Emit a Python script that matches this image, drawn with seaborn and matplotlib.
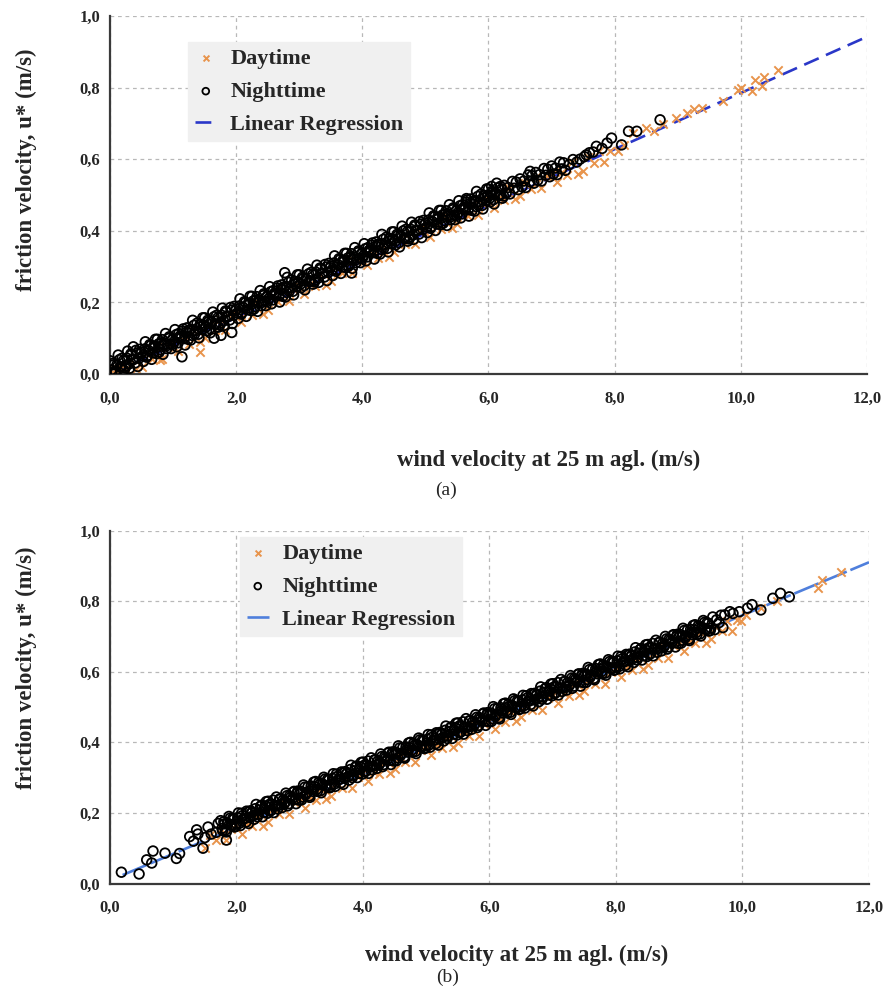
import matplotlib
matplotlib.use("Agg")
import matplotlib.pyplot as plt
import seaborn as sns

sns.set_style("white")
plt.rcParams['font.family'] = ['Liberation Serif', 'DejaVu Serif']

# ---------------- Data: panel (a) ----------------
night_a_x = [
    0.00, 0.03, 0.06, 0.09, 0.13, 0.16, 0.19, 0.22, 0.25, 0.28, 0.31, 0.34, 0.38, 0.41, 0.44, 0.47,
    0.50, 0.53, 0.56, 0.59, 0.63, 0.66, 0.69, 0.72, 0.75, 0.78, 0.81, 0.84, 0.88, 0.91, 0.94, 0.97,
    1.00, 1.03, 1.06, 1.09, 1.13, 1.16, 1.19, 1.22, 1.25, 1.28, 1.31, 1.34, 1.38, 1.41, 1.44, 1.47,
    1.50, 1.53, 1.56, 1.59, 1.63, 1.66, 1.69, 1.72, 1.75, 1.78, 1.81, 1.84, 1.88, 1.91, 1.94, 1.97,
    2.00, 2.03, 2.06, 2.09, 2.13, 2.16, 2.19, 2.22, 2.25, 2.28, 2.31, 2.34, 2.38, 2.41, 2.44, 2.47,
    2.50, 2.53, 2.56, 2.59, 2.63, 2.66, 2.69, 2.72, 2.75, 2.78, 2.81, 2.84, 2.88, 2.91, 2.94, 2.97,
    3.00, 3.03, 3.06, 3.09, 3.13, 3.16, 3.19, 3.22, 3.25, 3.28, 3.31, 3.34, 3.38, 3.41, 3.44, 3.47,
    3.50, 3.53, 3.56, 3.59, 3.63, 3.66, 3.69, 3.72, 3.75, 3.78, 3.81, 3.84, 3.88, 3.91, 3.94, 3.97,
    4.00, 4.03, 4.06, 4.09, 4.13, 4.16, 4.19, 4.22, 4.25, 4.28, 4.31, 4.34, 4.38, 4.41, 4.44, 4.47,
    4.50, 4.53, 4.56, 4.59, 4.63, 4.66, 4.69, 4.72, 4.75, 4.78, 4.81, 4.84, 4.88, 4.91, 4.94, 4.97,
    5.00, 5.03, 5.06, 5.09, 5.13, 5.16, 5.19, 5.22, 5.25, 5.28, 5.31, 5.34, 5.38, 5.41, 5.44, 5.47,
    5.50, 5.53, 5.56, 5.59, 5.63, 5.66, 5.69, 5.72, 5.75, 5.78, 5.81, 5.84, 5.88, 5.91, 5.94, 5.97,
    6.00, 6.03, 6.06, 6.09, 6.13, 6.16, 6.19, 6.22, 6.25, 6.28, 6.31, 6.34, 6.38, 6.41, 6.44, 6.47,
    6.50, 6.53, 6.56, 6.59, 6.63, 6.66, 6.69, 6.72, 6.75, 6.78, 6.81, 6.84, 6.88, 6.91, 6.94, 6.97,
    7.00, 7.03, 7.06, 7.09, 7.13, 7.16, 7.19, 7.22,
    7.28, 7.34, 7.40, 7.45, 7.52, 7.55, 7.60, 7.66, 7.71, 7.80, 7.88, 7.95, 8.11, 8.22, 8.35, 8.72,
    6.66, 6.05, 5.65, 2.77, 1.14, 1.93, 1.76, 1.65, 0.37, 3.83,
    0.02, 0.05, 0.08, 0.11, 0.15, 0.18, 0.21, 0.24, 0.27, 0.30, 0.33, 0.36, 0.40, 0.43, 0.46, 0.49,
    0.52, 0.55, 0.58, 0.61, 0.65, 0.68, 0.71, 0.74, 0.77, 0.80, 0.83, 0.86, 0.90, 0.93, 0.96, 0.99,
    1.02, 1.05, 1.08, 1.11, 1.15, 1.18, 1.21, 1.24, 1.27, 1.30, 1.33, 1.36, 1.40, 1.43, 1.46, 1.49,
    1.52, 1.55, 1.58, 1.61, 1.65, 1.68, 1.71, 1.74, 1.77, 1.80, 1.83, 1.86, 1.90, 1.93, 1.96, 1.99,
    2.02, 2.05, 2.08, 2.11, 2.15, 2.18, 2.21, 2.24, 2.27, 2.30, 2.33, 2.36, 2.40, 2.43, 2.46, 2.49,
    2.52, 2.55, 2.58, 2.61, 2.65, 2.68, 2.71, 2.74, 2.77, 2.80, 2.83, 2.86, 2.90, 2.93, 2.96, 2.99,
    3.02, 3.05, 3.08, 3.11, 3.15, 3.18, 3.21, 3.24, 3.27, 3.30, 3.33, 3.36, 3.40, 3.43, 3.46, 3.49,
    3.52, 3.55, 3.58, 3.61, 3.65, 3.68, 3.71, 3.74, 3.77, 3.80, 3.83, 3.86, 3.90, 3.93, 3.96, 3.99,
    4.02, 4.05, 4.08, 4.11, 4.15, 4.18, 4.21, 4.24, 4.27, 4.30, 4.33, 4.36, 4.40, 4.43, 4.46, 4.49,
    4.52, 4.55, 4.58, 4.61, 4.65, 4.68, 4.71, 4.74, 4.77, 4.80, 4.83, 4.86, 4.90, 4.93, 4.96, 4.99,
    5.02, 5.05, 5.08, 5.11, 5.15, 5.18, 5.21, 5.24, 5.27, 5.30, 5.33, 5.36, 5.40, 5.43, 5.46, 5.49,
    5.52, 5.55, 5.58, 5.61, 5.65, 5.68, 5.71, 5.74, 5.77, 5.80, 5.83, 5.86, 5.90, 5.93, 5.96, 5.99,
    6.02, 6.05, 6.08, 6.11, 6.15, 6.18, 6.21, 6.24,
]
night_a_y = [
    0.037, 0.004, 0.026, 0.004, 0.053, 0.020, 0.044, 0.011, 0.023, 0.064, 0.016, 0.053, 0.041, 0.066, 0.021, 0.069,
    0.061, 0.035, 0.090, 0.051, 0.082, 0.041, 0.072, 0.097, 0.097, 0.061, 0.086, 0.055, 0.113, 0.080, 0.104, 0.071,
    0.083, 0.124, 0.076, 0.113, 0.101, 0.126, 0.081, 0.129, 0.121, 0.095, 0.150, 0.111, 0.142, 0.101, 0.132, 0.157,
    0.157, 0.121, 0.146, 0.115, 0.173, 0.140, 0.164, 0.131, 0.143, 0.184, 0.136, 0.173, 0.161, 0.186, 0.141, 0.189,
    0.181, 0.155, 0.210, 0.171, 0.202, 0.161, 0.192, 0.217, 0.217, 0.181, 0.206, 0.175, 0.233, 0.200, 0.224, 0.191,
    0.203, 0.244, 0.196, 0.233, 0.221, 0.246, 0.201, 0.249, 0.241, 0.215, 0.270, 0.231, 0.262, 0.221, 0.252, 0.277,
    0.277, 0.241, 0.266, 0.235, 0.293, 0.260, 0.284, 0.251, 0.263, 0.304, 0.256, 0.293, 0.281, 0.306, 0.261, 0.309,
    0.301, 0.275, 0.330, 0.291, 0.322, 0.281, 0.312, 0.337, 0.337, 0.301, 0.326, 0.295, 0.353, 0.320, 0.344, 0.311,
    0.323, 0.364, 0.316, 0.353, 0.341, 0.366, 0.321, 0.369, 0.361, 0.335, 0.390, 0.351, 0.382, 0.341, 0.372, 0.397,
    0.397, 0.361, 0.386, 0.355, 0.413, 0.380, 0.404, 0.371, 0.383, 0.424, 0.376, 0.413, 0.401, 0.426, 0.381, 0.429,
    0.421, 0.395, 0.450, 0.411, 0.442, 0.401, 0.432, 0.457, 0.457, 0.421, 0.446, 0.415, 0.473, 0.440, 0.464, 0.431,
    0.443, 0.484, 0.436, 0.473, 0.461, 0.486, 0.441, 0.489, 0.481, 0.455, 0.510, 0.471, 0.502, 0.461, 0.492, 0.517,
    0.517, 0.481, 0.506, 0.475, 0.533, 0.500, 0.524, 0.491, 0.527, 0.505, 0.521, 0.503, 0.538, 0.519, 0.536, 0.515,
    0.545, 0.523, 0.539, 0.521, 0.556, 0.537, 0.554, 0.533, 0.563, 0.541, 0.557, 0.539, 0.574, 0.555, 0.572, 0.551,
    0.581, 0.559, 0.575, 0.557, 0.592, 0.573, 0.590, 0.569,
    0.585, 0.599, 0.592, 0.600, 0.607, 0.612, 0.618, 0.620, 0.636, 0.630, 0.645, 0.659, 0.640, 0.678, 0.678, 0.710,
    0.566, 0.524, 0.490, 0.283, 0.048, 0.116, 0.108, 0.100, 0.076, 0.282,
    0.011, 0.030, 0.007, 0.026, 0.040, 0.019, 0.037, 0.017, 0.044, 0.028, 0.056, 0.041, 0.031, 0.059, 0.044, 0.057,
    0.051, 0.070, 0.047, 0.066, 0.080, 0.059, 0.077, 0.057, 0.084, 0.068, 0.096, 0.081, 0.071, 0.099, 0.084, 0.097,
    0.091, 0.110, 0.087, 0.106, 0.120, 0.099, 0.117, 0.097, 0.124, 0.108, 0.136, 0.121, 0.111, 0.139, 0.124, 0.137,
    0.131, 0.150, 0.127, 0.146, 0.160, 0.139, 0.157, 0.137, 0.164, 0.148, 0.176, 0.161, 0.151, 0.179, 0.164, 0.177,
    0.171, 0.190, 0.167, 0.186, 0.200, 0.179, 0.197, 0.177, 0.204, 0.188, 0.216, 0.201, 0.191, 0.219, 0.204, 0.217,
    0.211, 0.230, 0.207, 0.226, 0.240, 0.219, 0.237, 0.217, 0.244, 0.228, 0.256, 0.241, 0.231, 0.259, 0.244, 0.257,
    0.251, 0.270, 0.247, 0.266, 0.280, 0.259, 0.277, 0.257, 0.284, 0.268, 0.296, 0.281, 0.271, 0.299, 0.284, 0.297,
    0.291, 0.310, 0.287, 0.306, 0.320, 0.299, 0.317, 0.297, 0.324, 0.308, 0.336, 0.321, 0.311, 0.339, 0.324, 0.337,
    0.331, 0.350, 0.327, 0.346, 0.360, 0.339, 0.357, 0.337, 0.364, 0.348, 0.376, 0.361, 0.351, 0.379, 0.364, 0.377,
    0.371, 0.390, 0.367, 0.386, 0.400, 0.379, 0.397, 0.377, 0.404, 0.388, 0.416, 0.401, 0.391, 0.419, 0.404, 0.417,
    0.411, 0.430, 0.407, 0.426, 0.440, 0.419, 0.437, 0.417, 0.444, 0.428, 0.456, 0.441, 0.431, 0.459, 0.444, 0.457,
    0.451, 0.470, 0.447, 0.466, 0.480, 0.459, 0.477, 0.457, 0.484, 0.468, 0.496, 0.481, 0.471, 0.499, 0.484, 0.497,
    0.491, 0.510, 0.487, 0.506, 0.520, 0.499, 0.517, 0.497,
]
day_a_x = [
    0.00, 0.08, 0.17, 0.25, 0.33, 0.42, 0.50, 0.58, 0.67, 0.75, 0.83, 0.92,
    1.00, 1.08, 1.17, 1.25, 1.33, 1.42, 1.50, 1.58, 1.67, 1.75, 1.83, 1.92,
    2.00, 2.08, 2.17, 2.25, 2.33, 2.42, 2.50, 2.58, 2.67, 2.75, 2.83, 2.92,
    3.00, 3.08, 3.17, 3.25, 3.33, 3.42, 3.50, 3.58, 3.67, 3.75, 3.83, 3.92,
    4.00, 4.08, 4.17, 4.25, 4.33, 4.42, 4.50, 4.58, 4.67, 4.75, 4.83, 4.92,
    5.00, 5.08, 5.17, 5.25, 5.33, 5.42, 5.50, 5.58, 5.67, 5.75, 5.83, 5.92,
    6.00, 6.08, 6.17, 6.25, 6.33, 6.42, 6.50, 6.58, 6.67, 6.75, 6.83, 6.92,
    7.00, 7.08, 7.17, 7.25, 7.33, 7.42, 7.50, 7.58, 7.67, 7.75, 7.83, 7.92,
    8.06, 8.15, 8.29, 8.50, 8.62, 8.77, 8.98, 9.14, 9.25, 9.38, 9.72, 9.96,
    10.00, 10.17, 10.22, 10.33, 10.36, 10.59, 1.43, 0.80,
]
day_a_y = [
    0.014, 0.012, 0.016, 0.013, 0.040, 0.015, 0.020, 0.058, 0.042, 0.075, 0.043, 0.076,
    0.087, 0.064, 0.092, 0.085, 0.120, 0.088, 0.100, 0.138, 0.122, 0.155, 0.123, 0.156,
    0.167, 0.144, 0.172, 0.165, 0.200, 0.168, 0.180, 0.218, 0.202, 0.235, 0.203, 0.236,
    0.247, 0.224, 0.252, 0.245, 0.280, 0.248, 0.260, 0.298, 0.282, 0.315, 0.283, 0.316,
    0.327, 0.304, 0.332, 0.325, 0.360, 0.328, 0.340, 0.378, 0.362, 0.395, 0.363, 0.396,
    0.407, 0.384, 0.412, 0.405, 0.440, 0.408, 0.420, 0.458, 0.442, 0.475, 0.443, 0.476,
    0.487, 0.464, 0.492, 0.485, 0.520, 0.488, 0.496, 0.534, 0.518, 0.551, 0.519, 0.552,
    0.559, 0.536, 0.564, 0.557, 0.592, 0.560, 0.568, 0.606, 0.590, 0.623, 0.591, 0.624,
    0.622, 0.640, 0.674, 0.687, 0.680, 0.697, 0.715, 0.729, 0.740, 0.743, 0.762, 0.794,
    0.800, 0.790, 0.820, 0.804, 0.830, 0.850, 0.062, 0.040,
]
reg_a_x = [0.0, 12.0]
reg_a_y = [0.0, 0.942]

# ---------------- Data: panel (b) ----------------
night_b_x = [
    0.18, 0.46, 0.58, 0.66, 0.68, 0.87, 1.05, 1.10, 1.26, 1.32, 1.37, 1.39, 1.47, 1.50, 1.55, 1.60, 1.68, 1.71, 1.84,
    1.75, 1.78, 1.81, 1.84, 1.88, 1.91, 1.94, 1.97,
    2.00, 2.03, 2.06, 2.09, 2.13, 2.16, 2.19, 2.22, 2.25, 2.28, 2.31, 2.34, 2.38, 2.41, 2.44, 2.47,
    2.50, 2.53, 2.56, 2.59, 2.63, 2.66, 2.69, 2.72, 2.75, 2.78, 2.81, 2.84, 2.88, 2.91, 2.94, 2.97,
    3.00, 3.03, 3.06, 3.09, 3.13, 3.16, 3.19, 3.22, 3.25, 3.28, 3.31, 3.34, 3.38, 3.41, 3.44, 3.47,
    3.50, 3.53, 3.56, 3.59, 3.63, 3.66, 3.69, 3.72, 3.75, 3.78, 3.81, 3.84, 3.88, 3.91, 3.94, 3.97,
    4.00, 4.03, 4.06, 4.09, 4.13, 4.16, 4.19, 4.22, 4.25, 4.28, 4.31, 4.34, 4.38, 4.41, 4.44, 4.47,
    4.50, 4.53, 4.56, 4.59, 4.63, 4.66, 4.69, 4.72, 4.75, 4.78, 4.81, 4.84, 4.88, 4.91, 4.94, 4.97,
    5.00, 5.03, 5.06, 5.09, 5.13, 5.16, 5.19, 5.22, 5.25, 5.28, 5.31, 5.34, 5.38, 5.41, 5.44, 5.47,
    5.50, 5.53, 5.56, 5.59, 5.63, 5.66, 5.69, 5.72, 5.75, 5.78, 5.81, 5.84, 5.88, 5.91, 5.94, 5.97,
    6.00, 6.03, 6.06, 6.09, 6.13, 6.16, 6.19, 6.22, 6.25, 6.28, 6.31, 6.34, 6.38, 6.41, 6.44, 6.47,
    6.50, 6.53, 6.56, 6.59, 6.63, 6.66, 6.69, 6.72, 6.75, 6.78, 6.81, 6.84, 6.88, 6.91, 6.94, 6.97,
    7.00, 7.03, 7.06, 7.09, 7.13, 7.16, 7.19, 7.22, 7.25, 7.28, 7.31, 7.34, 7.38, 7.41, 7.44, 7.47,
    7.50, 7.53, 7.56, 7.59, 7.63, 7.66, 7.69, 7.72, 7.75, 7.78, 7.81, 7.84, 7.88, 7.91, 7.94, 7.97,
    8.00, 8.03, 8.06, 8.09, 8.13, 8.16, 8.19, 8.22, 8.25, 8.28, 8.31, 8.34, 8.38, 8.41, 8.44, 8.47,
    8.50, 8.53, 8.56, 8.59, 8.63, 8.66, 8.69, 8.72, 8.75, 8.78, 8.81, 8.84, 8.88, 8.91, 8.94, 8.97,
    9.00, 9.03, 9.06, 9.09, 9.13, 9.16, 9.19, 9.22, 9.25, 9.28, 9.31, 9.34, 9.38, 9.41, 9.44, 9.47,
    9.50, 9.53, 9.56, 9.59, 9.63, 9.66, 9.69, 9.72,
    9.80, 9.85, 9.95, 10.08, 10.15, 10.29, 10.48, 10.60, 10.74,
    1.77, 1.80, 1.83, 1.86, 1.90, 1.93, 1.96, 1.99,
    2.02, 2.05, 2.08, 2.11, 2.15, 2.18, 2.21, 2.24, 2.27, 2.30, 2.33, 2.36, 2.40, 2.43, 2.46, 2.49,
    2.52, 2.55, 2.58, 2.61, 2.65, 2.68, 2.71, 2.74, 2.77, 2.80, 2.83, 2.86, 2.90, 2.93, 2.96, 2.99,
    3.02, 3.05, 3.08, 3.11, 3.15, 3.18, 3.21, 3.24, 3.27, 3.30, 3.33, 3.36, 3.40, 3.43, 3.46, 3.49,
    3.52, 3.55, 3.58, 3.61, 3.65, 3.68, 3.71, 3.74, 3.77, 3.80, 3.83, 3.86, 3.90, 3.93, 3.96, 3.99,
    4.02, 4.05, 4.08, 4.11, 4.15, 4.18, 4.21, 4.24, 4.27, 4.30, 4.33, 4.36, 4.40, 4.43, 4.46, 4.49,
    4.52, 4.55, 4.58, 4.61, 4.65, 4.68, 4.71, 4.74, 4.77, 4.80, 4.83, 4.86, 4.90, 4.93, 4.96, 4.99,
    5.02, 5.05, 5.08, 5.11, 5.15, 5.18, 5.21, 5.24, 5.27, 5.30, 5.33, 5.36, 5.40, 5.43, 5.46, 5.49,
    5.52, 5.55, 5.58, 5.61, 5.65, 5.68, 5.71, 5.74, 5.77, 5.80, 5.83, 5.86, 5.90, 5.93, 5.96, 5.99,
    6.02, 6.05, 6.08, 6.11, 6.15, 6.18, 6.21, 6.24, 6.27, 6.30, 6.33, 6.36, 6.40, 6.43, 6.46, 6.49,
    6.52, 6.55, 6.58, 6.61, 6.65, 6.68, 6.71, 6.74, 6.77, 6.80, 6.83, 6.86, 6.90, 6.93, 6.96, 6.99,
    7.02, 7.05, 7.08, 7.11, 7.15, 7.18, 7.21, 7.24, 7.27, 7.30, 7.33, 7.36, 7.40, 7.43, 7.46, 7.49,
    7.52, 7.55, 7.58, 7.61, 7.65, 7.68, 7.71, 7.74, 7.77, 7.80, 7.83, 7.86, 7.90, 7.93, 7.96, 7.99,
    8.02, 8.05, 8.08, 8.11, 8.15, 8.18, 8.21, 8.24, 8.27, 8.30, 8.33, 8.36, 8.40, 8.43, 8.46, 8.49,
    8.52, 8.55, 8.58, 8.61, 8.65, 8.68, 8.71, 8.74, 8.77, 8.80, 8.83, 8.86, 8.90, 8.93, 8.96, 8.99,
    9.02, 9.05, 9.08, 9.11, 9.15, 9.18, 9.21, 9.24, 9.27, 9.30, 9.33, 9.36, 9.40, 9.43, 9.46, 9.49,
]
night_b_y = [
    0.032, 0.027, 0.067, 0.058, 0.092, 0.086, 0.071, 0.085, 0.133, 0.120, 0.152, 0.140, 0.100, 0.130, 0.160, 0.140, 0.145, 0.170, 0.123,
    0.178, 0.150, 0.169, 0.146, 0.190, 0.166, 0.184, 0.160,
    0.169, 0.200, 0.164, 0.192, 0.184, 0.205, 0.170, 0.206, 0.202, 0.182, 0.224, 0.196, 0.219, 0.189, 0.212, 0.232,
    0.233, 0.205, 0.224, 0.201, 0.245, 0.221, 0.239, 0.215, 0.225, 0.256, 0.220, 0.248, 0.240, 0.261, 0.226, 0.262,
    0.257, 0.237, 0.279, 0.251, 0.274, 0.244, 0.267, 0.287, 0.289, 0.261, 0.280, 0.257, 0.301, 0.277, 0.295, 0.271,
    0.280, 0.311, 0.275, 0.303, 0.295, 0.316, 0.281, 0.317, 0.313, 0.293, 0.335, 0.307, 0.330, 0.300, 0.323, 0.343,
    0.344, 0.316, 0.335, 0.312, 0.356, 0.332, 0.350, 0.326, 0.336, 0.367, 0.331, 0.359, 0.351, 0.372, 0.337, 0.373,
    0.368, 0.348, 0.390, 0.362, 0.385, 0.355, 0.378, 0.398, 0.400, 0.372, 0.391, 0.368, 0.412, 0.388, 0.406, 0.382,
    0.391, 0.422, 0.386, 0.414, 0.406, 0.427, 0.392, 0.428, 0.424, 0.404, 0.446, 0.418, 0.441, 0.411, 0.434, 0.454,
    0.455, 0.427, 0.446, 0.423, 0.467, 0.443, 0.461, 0.437, 0.447, 0.478, 0.442, 0.470, 0.462, 0.483, 0.448, 0.484,
    0.479, 0.459, 0.501, 0.473, 0.496, 0.466, 0.489, 0.509, 0.511, 0.483, 0.502, 0.479, 0.523, 0.499, 0.517, 0.493,
    0.502, 0.533, 0.497, 0.525, 0.517, 0.538, 0.503, 0.539, 0.535, 0.515, 0.557, 0.529, 0.552, 0.522, 0.545, 0.565,
    0.566, 0.538, 0.557, 0.534, 0.578, 0.554, 0.572, 0.548, 0.558, 0.589, 0.553, 0.581, 0.573, 0.594, 0.559, 0.595,
    0.590, 0.570, 0.612, 0.584, 0.607, 0.577, 0.600, 0.620, 0.622, 0.594, 0.613, 0.590, 0.634, 0.610, 0.628, 0.604,
    0.613, 0.644, 0.608, 0.636, 0.628, 0.649, 0.614, 0.650, 0.646, 0.626, 0.668, 0.640, 0.663, 0.633, 0.656, 0.676,
    0.677, 0.649, 0.668, 0.645, 0.689, 0.665, 0.683, 0.659, 0.669, 0.700, 0.664, 0.692, 0.684, 0.705, 0.670, 0.706,
    0.701, 0.681, 0.723, 0.695, 0.718, 0.688, 0.711, 0.731, 0.733, 0.705, 0.724, 0.701, 0.745, 0.721, 0.739, 0.715,
    0.724, 0.755, 0.719, 0.747, 0.739, 0.760, 0.725, 0.761,
    0.770, 0.765, 0.770, 0.780, 0.790, 0.775, 0.808, 0.822, 0.812,
    0.156, 0.175, 0.152, 0.171, 0.185, 0.164, 0.182, 0.162,
    0.187, 0.171, 0.199, 0.184, 0.174, 0.202, 0.187, 0.200, 0.193, 0.212, 0.189, 0.208, 0.222, 0.201, 0.219, 0.199,
    0.224, 0.208, 0.236, 0.221, 0.211, 0.239, 0.224, 0.237, 0.230, 0.249, 0.226, 0.245, 0.259, 0.238, 0.256, 0.236,
    0.261, 0.245, 0.273, 0.258, 0.248, 0.276, 0.261, 0.274, 0.267, 0.286, 0.263, 0.282, 0.296, 0.275, 0.293, 0.273,
    0.298, 0.282, 0.310, 0.295, 0.285, 0.313, 0.298, 0.311, 0.304, 0.323, 0.300, 0.319, 0.333, 0.312, 0.330, 0.310,
    0.335, 0.319, 0.347, 0.332, 0.322, 0.350, 0.335, 0.348, 0.341, 0.360, 0.337, 0.356, 0.370, 0.349, 0.367, 0.347,
    0.372, 0.356, 0.384, 0.369, 0.359, 0.387, 0.372, 0.385, 0.378, 0.397, 0.374, 0.393, 0.407, 0.386, 0.404, 0.384,
    0.409, 0.393, 0.421, 0.406, 0.396, 0.424, 0.409, 0.422, 0.415, 0.434, 0.411, 0.430, 0.444, 0.423, 0.441, 0.421,
    0.446, 0.430, 0.458, 0.443, 0.433, 0.461, 0.446, 0.459, 0.452, 0.471, 0.448, 0.467, 0.481, 0.460, 0.478, 0.458,
    0.483, 0.467, 0.495, 0.480, 0.470, 0.498, 0.483, 0.496, 0.489, 0.508, 0.485, 0.504, 0.518, 0.497, 0.515, 0.495,
    0.520, 0.504, 0.532, 0.517, 0.507, 0.535, 0.520, 0.533, 0.526, 0.545, 0.522, 0.541, 0.555, 0.534, 0.552, 0.532,
    0.557, 0.541, 0.569, 0.554, 0.544, 0.572, 0.557, 0.570, 0.563, 0.582, 0.559, 0.578, 0.592, 0.571, 0.589, 0.569,
    0.594, 0.578, 0.606, 0.591, 0.581, 0.609, 0.594, 0.607, 0.600, 0.619, 0.596, 0.615, 0.629, 0.608, 0.626, 0.606,
    0.631, 0.615, 0.643, 0.628, 0.618, 0.646, 0.631, 0.644, 0.637, 0.656, 0.633, 0.652, 0.666, 0.645, 0.663, 0.643,
    0.668, 0.652, 0.680, 0.665, 0.655, 0.683, 0.668, 0.681, 0.674, 0.693, 0.670, 0.689, 0.703, 0.682, 0.700, 0.680,
    0.705, 0.689, 0.717, 0.702, 0.692, 0.720, 0.705, 0.718, 0.711, 0.730, 0.707, 0.726, 0.740, 0.719, 0.737, 0.717,
]
day_b_x = [
    1.50, 1.58, 1.67, 1.75, 1.83, 1.92,
    2.00, 2.08, 2.17, 2.25, 2.33, 2.42, 2.50, 2.58, 2.67, 2.75, 2.83, 2.92,
    3.00, 3.08, 3.17, 3.25, 3.33, 3.42, 3.50, 3.58, 3.67, 3.75, 3.83, 3.92,
    4.00, 4.08, 4.17, 4.25, 4.33, 4.42, 4.50, 4.58, 4.67, 4.75, 4.83, 4.92,
    5.00, 5.08, 5.17, 5.25, 5.33, 5.42, 5.50, 5.58, 5.67, 5.75, 5.83, 5.92,
    6.00, 6.08, 6.17, 6.25, 6.33, 6.42, 6.50, 6.58, 6.67, 6.75, 6.83, 6.92,
    7.00, 7.08, 7.17, 7.25, 7.33, 7.42, 7.50, 7.58, 7.67, 7.75, 7.83, 7.92,
    8.00, 8.08, 8.17, 8.25, 8.33, 8.42, 8.50, 8.58, 8.67, 8.75, 8.83, 8.92,
    9.00, 9.08, 9.17, 9.25, 9.33, 9.42, 9.50, 9.58, 9.67, 9.75, 9.83, 9.92,
    9.98, 10.05, 10.30, 10.55, 11.20, 11.26, 11.56,
]
day_b_y = [
    0.101, 0.136, 0.122, 0.153, 0.122, 0.155,
    0.165, 0.141, 0.169, 0.162, 0.194, 0.164, 0.175, 0.210, 0.196, 0.227, 0.196, 0.229,
    0.239, 0.215, 0.243, 0.236, 0.268, 0.238, 0.249, 0.284, 0.270, 0.301, 0.270, 0.303,
    0.313, 0.289, 0.317, 0.310, 0.342, 0.312, 0.323, 0.358, 0.344, 0.375, 0.344, 0.377,
    0.387, 0.363, 0.391, 0.384, 0.416, 0.386, 0.397, 0.432, 0.418, 0.449, 0.418, 0.451,
    0.461, 0.437, 0.465, 0.458, 0.490, 0.460, 0.471, 0.506, 0.492, 0.523, 0.492, 0.525,
    0.535, 0.511, 0.539, 0.532, 0.564, 0.534, 0.545, 0.580, 0.566, 0.597, 0.566, 0.599,
    0.609, 0.585, 0.613, 0.606, 0.638, 0.608, 0.619, 0.654, 0.640, 0.671, 0.640, 0.673,
    0.683, 0.659, 0.687, 0.680, 0.712, 0.682, 0.693, 0.728, 0.714, 0.745, 0.714, 0.747,
    0.745, 0.760, 0.780, 0.800, 0.837, 0.860, 0.883,
]
reg_b_x = [0.2, 12.0]
reg_b_y = [0.024, 0.910]

x_ticks = [0, 2, 4, 6, 8, 10, 12]
x_tick_labels = ["0,0", "2,0", "4,0", "6,0", "8,0", "10,0", "12,0"]
y_ticks = [0.0, 0.2, 0.4, 0.6, 0.8, 1.0]
y_tick_labels = ["0,0", "0,2", "0,4", "0,6", "0,8", "1,0"]

series_labels = ["Daytime", "Nighttime", "Linear Regression"]
x_title = "wind velocity at 25 m agl. (m/s)"
y_title = "friction velocity, u* (m/s)"

DAY_COLOR = "#E8944C"
SPINE = "#3a3a3a"

fig = plt.figure(figsize=(8.87, 9.89), dpi=100)
ax_a = fig.add_axes([110 / 887, 1 - 374 / 989, 757 / 887, 358 / 989])
ax_b = fig.add_axes([110 / 887, 1 - 883.5 / 989, 759 / 887, 353 / 989])


def draw(ax, dx, dy, nx, ny, rx, ry, rcolor, rstyle, leg_anchor, xlab_xy, ylab_xy):
    ax.set_axisbelow(True)
    sns.lineplot(x=rx, y=ry, ax=ax, color=rcolor, lw=1.9, linestyle=rstyle,
                 label=series_labels[2], zorder=1.5, estimator=None)
    sns.scatterplot(x=dx, y=dy, ax=ax, marker="x", color=DAY_COLOR, s=36,
                    linewidth=1.4, label=series_labels[0], zorder=2)
    sns.scatterplot(x=nx, y=ny, ax=ax, marker="o", facecolor="none",
                    edgecolor="black", s=48, linewidth=1.3,
                    label=series_labels[1], zorder=3)
    ax.set_xlim(0, 12)
    ax.set_ylim(0, 1.0)
    ax.set_xticks(x_ticks)
    ax.set_xticklabels(x_tick_labels)
    ax.set_yticks(y_ticks)
    ax.set_yticklabels(y_tick_labels)
    for lab in ax.get_xticklabels() + ax.get_yticklabels():
        lab.set_fontweight("bold")
        lab.set_fontsize(12)
    ax.tick_params(axis="x", direction="out", length=4, width=1.2, color=SPINE, pad=8)
    ax.tick_params(axis="y", direction="out", length=4, width=1.2, color=SPINE, pad=3)
    ax.grid(True, color="#b8b8b8", linestyle=(0, (3, 3)), linewidth=0.9)
    for side in ["top", "right"]:
        ax.spines[side].set_visible(False)
    for side in ["left", "bottom"]:
        ax.spines[side].set_color(SPINE)
        ax.spines[side].set_linewidth(1.6)
    ax.set_xlabel(x_title, fontsize=16.5, fontweight="bold")
    ax.set_ylabel(y_title, fontsize=16.5, fontweight="bold")
    ax.xaxis.set_label_coords(*xlab_xy)
    ax.yaxis.set_label_coords(*ylab_xy)
    handles, labels = ax.get_legend_handles_labels()
    order = [labels.index(l) for l in series_labels]
    ax.legend([handles[i] for i in order], [labels[i] for i in order],
              loc="upper left", bbox_to_anchor=leg_anchor, borderaxespad=0,
              frameon=True, fancybox=False, facecolor="#f0f0f0",
              edgecolor="#f0f0f0", framealpha=1.0,
              prop=dict(family="Liberation Serif", weight="bold", size=16),
              handlelength=1.0, handletextpad=0.6, labelspacing=0.55,
              borderpad=0.3, markerscale=0.7)


draw(ax_a, day_a_x, day_a_y, night_a_x, night_a_y, reg_a_x, reg_a_y,
     "#2a37c8", (0, (6, 3)), ((188 - 110) / 757, (374 - 42) / 358),
     ((549 - 110) / 757, (374 - 450) / 358), ((37 - 110) / 757, (374 - 170) / 358))
draw(ax_b, day_b_x, day_b_y, night_b_x, night_b_y, reg_b_x, reg_b_y,
     "#4f7fdc", (0, (10, 1.5)), ((240 - 110) / 759, (883.5 - 537) / 353),
     ((517 - 110) / 759, (883.5 - 945) / 353), ((37 - 110) / 759, (883.5 - 668) / 353))

fig.text(446 / 887, 1 - 490 / 989, "(a)", ha="center", va="center", fontsize=14)
fig.text(448 / 887, 1 - 977 / 989, "(b)", ha="center", va="center", fontsize=14)

fig.savefig("out.png", dpi=100)
